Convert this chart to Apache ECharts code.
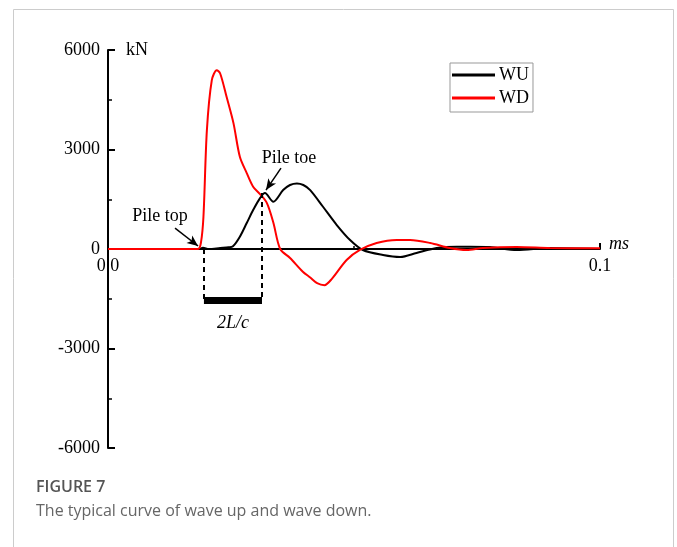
<!DOCTYPE html>
<html>
<head>
<meta charset="utf-8">
<script src="https://cdn.jsdelivr.net/npm/echarts@6/dist/echarts.min.js"></script>
<style>
  html, body { margin: 0; padding: 0; background: #fff; }
  #main { width: 677px; height: 547px; }
</style>
</head>
<body>
<div id="main"></div>
<script>
// time (ms) and force (kN)
var wuTime  = [0, 0.010, 0.0185, 0.0193, 0.0205, 0.0228, 0.0245, 0.0254, 0.0268, 0.0282, 0.0295, 0.0309, 0.0319, 0.0336, 0.0356, 0.0370, 0.0384, 0.0397, 0.0411, 0.0437, 0.0465, 0.0492, 0.0518, 0.0559, 0.0594, 0.0627, 0.0668, 0.0709, 0.0736, 0.0776, 0.0831, 0.0898, 0.1];
var wuForce = [0, 0, 0, 40, 0, 30, 50, 80, 370, 783, 1175, 1536, 1687, 1425, 1777, 1930, 1978, 1930, 1777, 1274, 723, 271, -30, -181, -241, -120, 30, 70, 70, 60, -30, 30, 0];

var wdTime  = [0, 0.010, 0.0183, 0.0189, 0.0194, 0.0201, 0.0211, 0.0221, 0.0228, 0.0241, 0.0255, 0.0268, 0.0282, 0.0295, 0.0309, 0.0323, 0.0336, 0.0350, 0.0370, 0.0396, 0.0411, 0.0425, 0.0440, 0.0455, 0.0485, 0.0512, 0.0546, 0.0587, 0.0614, 0.0655, 0.0695, 0.0729, 0.0762, 0.0831, 0.0898, 0.1];
var wdForce = [0, 0, 0, 200, 973, 3584, 5090, 5391, 5292, 4587, 3795, 2780, 2289, 1877, 1657, 1385, 800, 0, -271, -684, -860, -1030, -1090, -900, -331, -30, 181, 271, 271, 181, 30, -30, 30, 60, 30, 20];

var yTicks = [-6000, -3000, 0, 3000, 6000];

// annotation positions in data units
var pileTop = { text: [0.01057, 994], from: [0.01362, 632], to: [0.0183, 90] };
var pileToe = { text: [0.03679, 2741], from: [0.03516, 2440], to: [0.03211, 1777] };
var spanStart = 0.0195, spanEnd = 0.0313, spanY = -1536, toeY = 1687;

function pairs(t, f) {
  return t.map(function (v, i) { return [v, f[i]]; });
}

var serif = 'Liberation Serif';
var chart = echarts.init(document.getElementById('main'));

chart.setOption({
  animation: false,
  backgroundColor: '#fff',
  grid: { left: 108, right: 77, top: 50, bottom: 99, containLabel: false },
  legend: {
    data: ['WU', 'WD'],
    orient: 'vertical',
    left: 450,
    top: 63,
    padding: [3, 4, 5, 2],
    itemGap: 5,
    itemWidth: 43,
    itemHeight: 3,
    icon: 'rect',
    borderColor: '#999',
    borderWidth: 1,
    textStyle: { fontFamily: serif, fontSize: 18, color: '#000', padding: [0, 0, 0, -1] }
  },
  xAxis: {
    type: 'value',
    min: 0,
    max: 0.1,
    interval: 0.1,
    offset: -199,
    axisLine: { onZero: false, lineStyle: { color: '#000', width: 2 } },
    axisTick: { inside: true, length: 6, lineStyle: { color: '#000', width: 2 } },
    minorTick: { show: true, splitNumber: 2, length: 3, lineStyle: { color: '#000', width: 1.5 } },
    axisLabel: {
      fontFamily: serif, fontSize: 18, color: '#000', margin: 8,
      formatter: function (v) { return v === 0 ? '0 0' : String(v); }
    },
    splitLine: { show: false }
  },
  yAxis: {
    type: 'value',
    min: yTicks[0],
    max: yTicks[yTicks.length - 1],
    interval: 3000,
    axisLine: { onZero: false, lineStyle: { color: '#000', width: 2 } },
    axisTick: { inside: true, length: 7, lineStyle: { color: '#000', width: 2 } },
    minorTick: { show: true, splitNumber: 2, length: 4, lineStyle: { color: '#000', width: 1.5 } },
    axisLabel: {
      fontFamily: serif, fontSize: 18, color: '#000', margin: 8,
      formatter: function (v) { return String(v); }
    },
    splitLine: { show: false }
  },
  series: [
    {
      name: 'WU',
      type: 'line',
      data: pairs(wuTime, wuForce),
      smooth: 0.3,
      showSymbol: false,
      color: '#000',
      lineStyle: { color: '#000', width: 2 },
      z: 3
    },
    {
      name: 'WD',
      type: 'line',
      data: pairs(wdTime, wdForce),
      smooth: 0.3,
      showSymbol: false,
      color: '#ff0000',
      lineStyle: { color: '#ff0000', width: 2 },
      z: 4
    },
    {
      name: 'annot',
      type: 'line',
      data: [],
      z: 5,
      markLine: {
        silent: true,
        animation: false,
        label: { show: false },
        symbol: 'none',
        data: [
          [{ coord: [spanStart, 0], lineStyle: { type: [5, 4], width: 2, color: '#000' } }, { coord: [spanStart, spanY] }],
          [{ coord: [spanEnd, toeY], lineStyle: { type: [5, 4], width: 2, color: '#000' } }, { coord: [spanEnd, spanY] }],
          [{ coord: [spanStart, spanY], lineStyle: { type: 'solid', width: 7, color: '#000' } }, { coord: [spanEnd, spanY] }],
          [{ coord: pileTop.from, symbol: 'none', lineStyle: { type: 'solid', width: 1.5, color: '#000' } }, { coord: pileTop.to, symbol: 'arrow', symbolSize: [7, 11] }],
          [{ coord: pileToe.from, symbol: 'none', lineStyle: { type: 'solid', width: 1.5, color: '#000' } }, { coord: pileToe.to, symbol: 'arrow', symbolSize: [7, 11] }]
        ]
      },
      markPoint: {
        silent: true,
        symbol: 'circle',
        symbolSize: 0,
        label: { show: true, position: 'inside', fontFamily: serif, fontSize: 18, color: '#000' },
        data: [
          { coord: pileTop.text, label: { formatter: 'Pile top' } },
          { coord: pileToe.text, label: { formatter: 'Pile toe' } },
          { coord: [(spanStart + spanEnd) / 2, -2229], label: { formatter: '2L/c', fontStyle: 'italic' } }
        ]
      }
    }
  ],
  graphic: [
    { type: 'rect', shape: { x: 13.5, y: 9.5, width: 660, height: 560 }, style: { fill: 'none', stroke: '#cccccc', lineWidth: 1 }, silent: true, z: -10 },
    { type: 'text', left: 126, top: 41, style: { text: 'kN', font: '18px "Liberation Serif"', fill: '#000' } },
    { type: 'text', left: 609, top: 235, style: { text: 'ms', font: 'italic 18px "Liberation Serif"', fill: '#000' } },
    { type: 'text', left: 36, top: 479, style: { text: 'FIGURE 7', font: '600 16px "Open Sans"', fill: '#555' } },
    { type: 'text', left: 36, top: 503, style: { text: 'The typical curve of wave up and wave down.', font: '16px "Open Sans"', fill: '#666' } }
  ]
});
</script>
</body>
</html>
